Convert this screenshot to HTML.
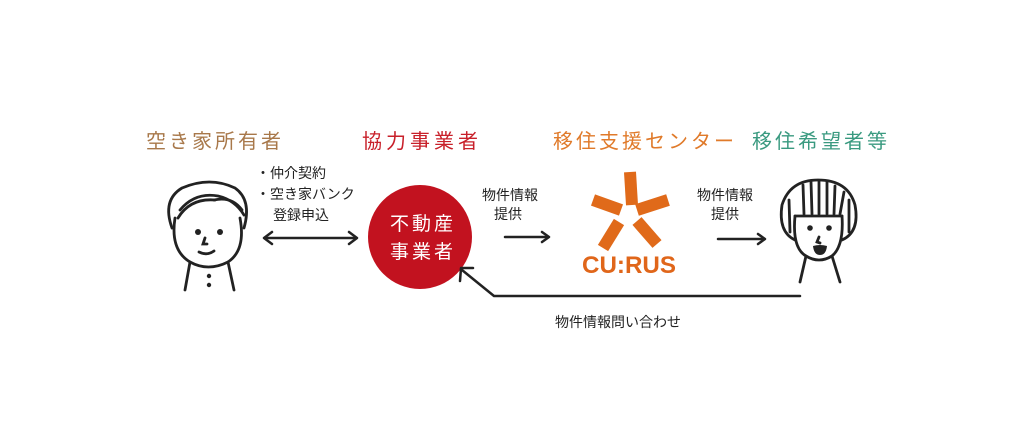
<!DOCTYPE html>
<html><head><meta charset="utf-8"><style>
html,body{margin:0;padding:0;background:#fff;}
body{width:1024px;height:423px;overflow:hidden;}
svg text{font-family:"Liberation Sans","Noto Sans CJK JP",sans-serif;}
</style></head><body>
<svg width="1024" height="423" viewBox="0 0 1024 423" xmlns="http://www.w3.org/2000/svg">
<g font-size="20">
<text x="146" y="148" fill="#a8784a" letter-spacing="3">空き家所有者</text>
<text x="362" y="148" fill="#c8202a" letter-spacing="4">協力事業者</text>
<text x="553" y="148" fill="#e07a2a" letter-spacing="3">移住支援センター</text>
<text x="752" y="148" fill="#3a9a80" letter-spacing="3">移住希望者等</text>
</g>
<g font-size="14" fill="#222">
<text x="256" y="178">・仲介契約</text>
<text x="256" y="199">・空き家バンク</text>
<text x="273" y="220">登録申込</text>
<text x="482" y="200">物件情報</text>
<text x="494" y="219">提供</text>
<text x="697" y="200">物件情報</text>
<text x="711" y="219">提供</text>
<text x="555" y="327">物件情報問い合わせ</text>
</g>
<circle cx="420" cy="237" r="52" fill="#c2121f"/>
<g font-size="19" fill="#fff" letter-spacing="3">
<text x="390" y="230">不動産</text>
<text x="390" y="258">事業者</text>
</g>
<g stroke="#222" stroke-width="2.5" fill="none" stroke-linecap="round" stroke-linejoin="round">
<line x1="265" y1="238" x2="356" y2="238"/>
<polyline points="272,232 264,238 272,244"/>
<polyline points="349,232 357,238 349,244"/>
<line x1="505" y1="237" x2="548" y2="237"/>
<polyline points="542,232 549,237 542,242"/>
<line x1="718" y1="239" x2="764" y2="239"/>
<polyline points="758,234 765,239 758,244"/>
<polyline points="800,296 494,296 462,270"/>
<polyline points="460,281 461,268 473,268"/>
</g>
<g stroke="#e06a1a" stroke-width="12" stroke-linecap="butt">
<line x1="630" y1="172" x2="632" y2="205"/>
<line x1="593" y1="200" x2="621" y2="210"/>
<line x1="637" y1="210" x2="668" y2="200"/>
<line x1="619" y1="222" x2="603" y2="248"/>
<line x1="637" y1="221" x2="657" y2="244"/>
</g>
<text x="582" y="273" font-size="24" font-weight="bold" fill="#e0661a" textLength="94" lengthAdjust="spacingAndGlyphs">CU:RUS</text>
<g stroke="#222" stroke-width="2.8" fill="none" stroke-linecap="round">
<path d="M175,218 Q170,250 190,262 Q208,272 228,262 Q246,250 240,218"/>
<path d="M172,228 Q162,200 182,188 Q210,176 235,188 Q252,200 244,228"/>
<path d="M180,210 Q195,192 218,196 Q235,200 244,215"/>
<path d="M178,218 Q190,198 215,200"/>
<path d="M214,200 Q232,196 242,210"/>
<path d="M190,262 L185,290 M228,262 L234,290"/>
<path d="M205,238 L203,244 L207,244"/>
<path d="M199,252 Q207,256 214,251"/>
</g>
<g fill="#222">
<circle cx="198" cy="232" r="3"/><circle cx="220" cy="232" r="3"/>
<circle cx="209" cy="276" r="2.2"/><circle cx="209" cy="285" r="2.2"/>
</g>
<g stroke="#222" stroke-width="2.8" fill="none" stroke-linecap="round">
<path d="M795,240 Q778,232 782,205 Q790,180 818,180 Q848,180 855,205 Q860,232 842,240"/>
<path d="M795,216 Q792,248 806,256 Q819,264 832,256 Q844,246 842,216"/>
<path d="M795,216 L842,216"/>
<path d="M803,185 L804,214 M811,182 L812,214 M819,181 L819,214 M827,182 L827,214 M835,186 L834,214 M844,192 L840,214"/>
<path d="M789,200 L790,232 M849,200 L849,232"/>
<path d="M806,256 L800,282 M832,256 L840,282"/>
<path d="M819,237 L817,242 L820,243"/>
</g>
<g fill="#222">
<circle cx="810" cy="228" r="2.8"/><circle cx="829" cy="228" r="2.8"/>
<path d="M813,246 Q820,244 827,246 Q826,255 820,255 Q814,255 813,246 Z"/>
</g>
</svg>
</body></html>
